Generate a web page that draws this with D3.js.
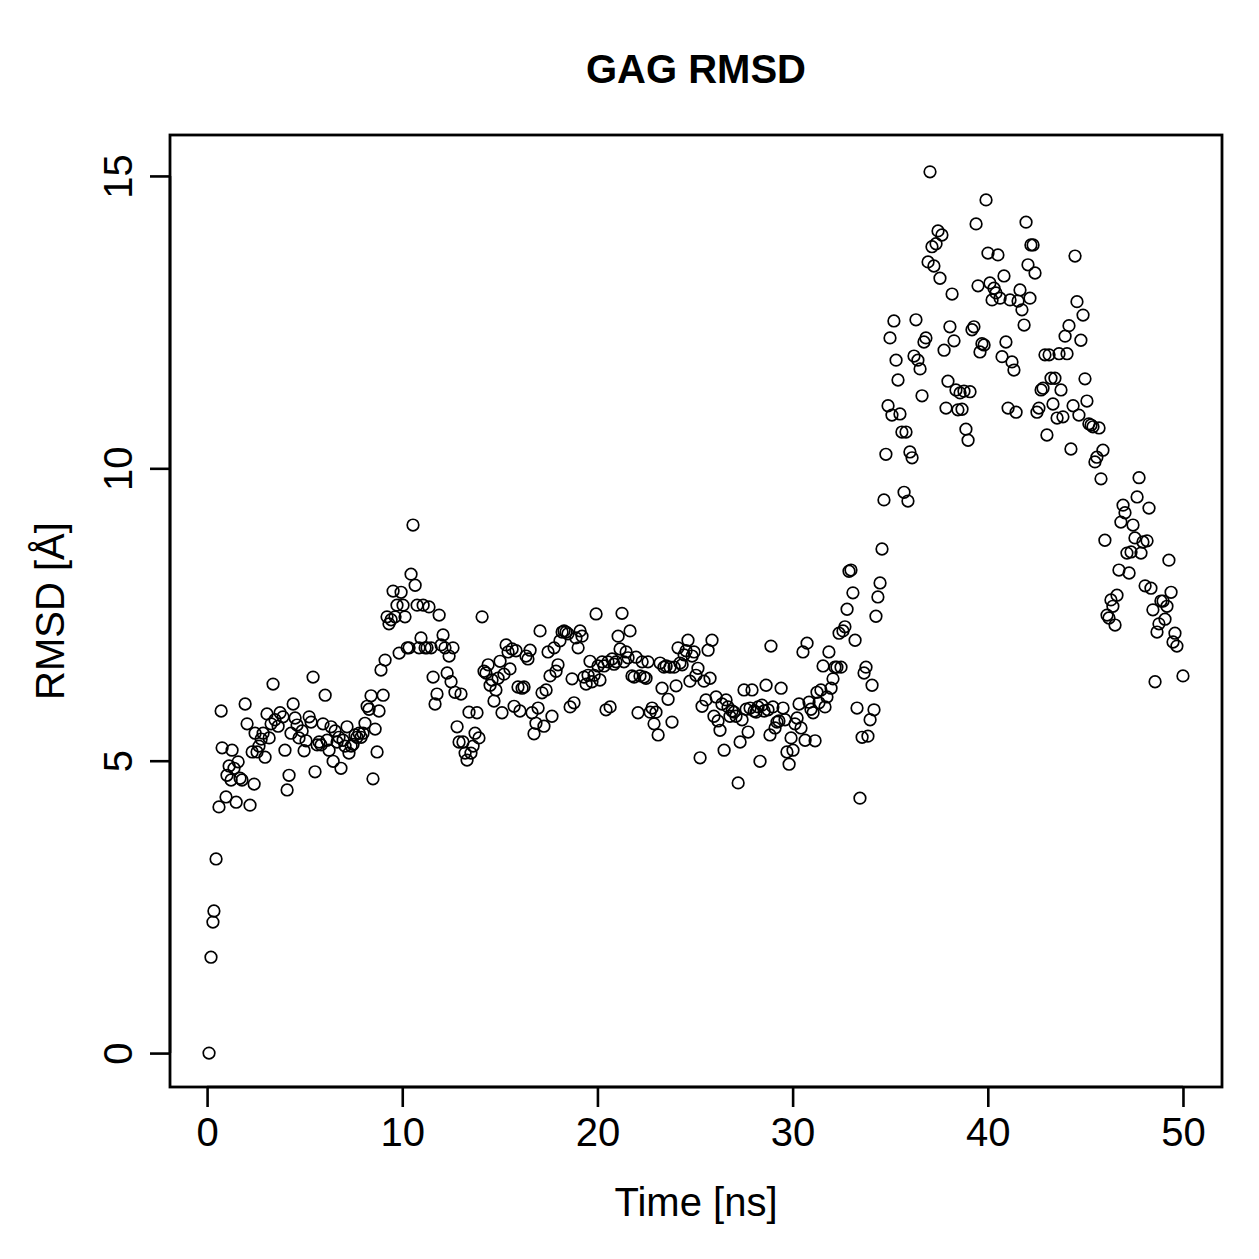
<!DOCTYPE html>
<html>
  <head>
    <meta charset="UTF-8">
    <style>
      body {
        margin: 0;
        background: #ffffff;
        font-family: 'Liberation Sans', Arial, sans-serif;
      }
      .tick text {
        font-size: 40px;
        font-family: 'Liberation Sans', Arial, sans-serif;
        fill: #000;
      }
      .tick line {
        stroke: #000;
        stroke-width: 2.6px;
      }
    </style>
    <script src="https://d3js.org/d3.v7.min.js"></script>
  </head>
  <body>
    <svg id="chart"></svg>
    <script type="text/javascript">
      let times = [
        0.1, 0.2, 0.3, 0.35, 0.46, 0.61, 0.72, 0.77, 0.97, 1.02, 1.13, 1.23, 1.28, 1.38, 1.49, 1.59, 1.69, 1.79, 1.95, 2.05,
        2.2, 2.31, 2.41, 2.46, 2.56, 2.66, 2.77, 2.87, 2.97, 3.07, 3.18, 3.28, 3.38, 3.48, 3.64, 3.74, 3.89, 3.99, 4.1, 4.2,
        4.3, 4.41, 4.51, 4.61, 4.71, 4.87, 4.97, 5.07, 5.23, 5.33, 5.43, 5.53, 5.64, 5.74, 5.84, 5.94, 6.05, 6.15, 6.25, 6.35,
        6.46, 6.56, 6.66, 6.76, 6.86, 6.97, 7.07, 7.17, 7.27, 7.38, 7.48, 7.58, 7.68, 7.79, 7.89, 7.99, 8.09, 8.2, 8.3, 8.4,
        8.5, 8.61, 8.71, 8.81, 8.91, 9.02, 9.12, 9.22, 9.32, 9.43, 9.53, 9.63, 9.73, 9.84, 9.94, 10.04, 10.14, 10.25, 10.35, 10.45,
        10.55, 10.66, 10.76, 10.86, 10.96, 11.07, 11.17, 11.27, 11.37, 11.48, 11.58, 11.68, 11.78, 11.89, 11.99, 12.09, 12.19, 12.3, 12.4, 12.5,
        12.6, 12.7, 12.81, 12.91, 13.01, 13.11, 13.22, 13.32, 13.42, 13.52, 13.63, 13.73, 13.83, 13.93, 14.09, 14.19, 14.29, 14.4, 14.5, 14.6,
        14.7, 14.8, 14.91, 15.01, 15.11, 15.21, 15.32, 15.42, 15.52, 15.63, 15.73, 15.83, 15.93, 16.03, 16.14, 16.24, 16.34, 16.44, 16.55, 16.65,
        16.75, 16.85, 16.96, 17.06, 17.16, 17.26, 17.37, 17.47, 17.57, 17.67, 17.78, 17.88, 17.98, 18.08, 18.19, 18.29, 18.39, 18.49, 18.6, 18.7,
        18.8, 18.9, 19.01, 19.11, 19.21, 19.31, 19.42, 19.52, 19.62, 19.72, 19.83, 19.93, 20.03, 20.13, 20.24, 20.34, 20.44, 20.54, 20.65, 20.75,
        20.85, 20.95, 21.06, 21.16, 21.26, 21.36, 21.47, 21.57, 21.67, 21.77, 21.88, 21.98, 22.08, 22.18, 22.29, 22.39, 22.49, 22.59, 22.7, 22.8,
        22.9, 23.0, 23.11, 23.21, 23.31, 23.41, 23.52, 23.62, 23.72, 23.82, 23.93, 24.03, 24.13, 24.23, 24.34, 24.44, 24.54, 24.64, 24.74, 24.85,
        24.95, 25.05, 25.15, 25.26, 25.36, 25.46, 25.56, 25.67, 25.77, 25.87, 25.97, 26.08, 26.18, 26.28, 26.38, 26.49, 26.59, 26.69, 26.79, 26.9,
        27.0, 27.1, 27.21, 27.31, 27.41, 27.51, 27.62, 27.72, 27.82, 27.92, 28.03, 28.13, 28.23, 28.33, 28.43, 28.54, 28.64, 28.74, 28.84, 28.89,
        28.99, 29.1, 29.2, 29.3, 29.41, 29.51, 29.61, 29.71, 29.82, 29.92, 30.02, 30.12, 30.23, 30.33, 30.43, 30.53, 30.64, 30.74, 30.84, 30.94,
        31.05, 31.15, 31.25, 31.35, 31.45, 31.56, 31.66, 31.76, 31.86, 31.97, 32.07, 32.17, 32.27, 32.38, 32.48, 32.58, 32.68, 32.79, 32.89, 32.99,
        33.09, 33.2, 33.3, 33.45, 33.56, 33.66, 33.76, 33.86, 33.97, 34.07, 34.17, 34.27, 34.37, 34.48, 34.58, 34.68, 34.78, 34.89, 34.99, 35.09,
        35.19, 35.3, 35.4, 35.5, 35.6, 35.71, 35.81, 35.91, 36.01, 36.12, 36.22, 36.32, 36.42, 36.53, 36.63, 36.73, 36.83, 36.94, 37.04, 37.14,
        37.24, 37.35, 37.45, 37.55, 37.65, 37.76, 37.86, 37.96, 38.06, 38.17, 38.27, 38.37, 38.47, 38.58, 38.68, 38.78, 38.88, 38.99, 39.09, 39.19,
        39.29, 39.4, 39.5, 39.6, 39.7, 39.81, 39.91, 40.01, 40.11, 40.22, 40.32, 40.42, 40.52, 40.63, 40.73, 40.83, 40.93, 41.04, 41.14, 41.24,
        41.34, 41.45, 41.55, 41.65, 41.75, 41.86, 41.96, 42.06, 42.16, 42.21, 42.32, 42.42, 42.52, 42.62, 42.73, 42.83, 42.93, 43.03, 43.14, 43.24,
        43.34, 43.44, 43.55, 43.65, 43.75, 43.85, 43.96, 44.06, 44.16, 44.26, 44.37, 44.47, 44.57, 44.67, 44.77, 44.88, 44.98, 45.08, 45.18, 45.29,
        45.39, 45.49, 45.59, 45.7, 45.8, 45.9, 46.0, 46.11, 46.21, 46.31, 46.41, 46.52, 46.62, 46.72, 46.82, 46.93, 47.03, 47.13, 47.24, 47.34,
        47.44, 47.54, 47.65, 47.75, 47.85, 47.95, 48.06, 48.16, 48.26, 48.36, 48.46, 48.57, 48.67, 48.77, 48.87, 48.98, 49.08, 49.18, 49.28, 49.39,
        49.49, 49.59, 49.69, 50.0
      ]

      let rmsd = [
        0.0, 1.64, 2.24, 2.43, 3.32, 4.21, 5.85, 5.22, 4.38, 4.75, 4.91, 4.67, 5.18, 4.87, 4.29, 4.98, 4.7, 4.67, 5.97, 5.63,
        4.24, 5.15, 4.6, 5.47, 5.15, 5.25, 5.37, 5.47, 5.06, 5.8, 5.39, 5.63, 6.31, 5.7, 5.59, 5.82, 5.75, 5.18, 4.5, 4.75,
        5.47, 5.97, 5.73, 5.61, 5.39, 5.51, 5.17, 5.34, 5.75, 5.66, 6.43, 4.81, 5.27, 5.32, 5.27, 5.63, 6.12, 5.35, 5.18, 5.58,
        4.99, 5.51, 5.32, 5.4, 4.87, 5.35, 5.25, 5.58, 5.13, 5.25, 5.28, 5.44, 5.4, 5.47, 5.4, 5.47, 5.64, 5.93, 5.88, 6.11,
        4.69, 5.54, 5.15, 5.85, 6.55, 6.12, 6.72, 7.46, 7.34, 7.41, 7.9, 7.46, 7.66, 6.84, 7.88, 7.66, 7.46, 6.93, 6.93, 8.19,
        9.03, 8.0, 7.66, 6.93, 7.1, 7.66, 6.93, 6.93, 7.63, 6.93, 6.43, 5.97, 6.14, 7.49, 6.98, 7.15, 6.93, 6.5, 6.79, 6.35,
        6.93, 6.17, 5.58, 5.32, 6.14, 5.32, 5.13, 5.01, 5.83, 5.13, 5.25, 5.47, 5.82, 5.39, 7.46, 6.53, 6.5, 6.64, 6.29, 6.38,
        6.02, 6.21, 6.41, 6.7, 5.82, 6.48, 6.98, 6.86, 6.57, 6.91, 5.93, 6.88, 6.26, 5.85, 6.24, 6.26, 6.79, 6.74, 6.89, 5.82,
        5.46, 5.64, 5.9, 7.22, 6.16, 5.59, 6.21, 6.86, 6.45, 5.76, 6.93, 6.53, 6.64, 7.05, 7.2, 7.22, 7.2, 7.17, 5.92, 6.4,
        5.99, 7.1, 6.93, 7.22, 7.13, 6.43, 6.31, 6.46, 6.7, 6.35, 6.46, 7.51, 6.62, 6.38, 6.69, 6.62, 5.87, 6.69, 5.92, 6.74,
        6.65, 6.69, 7.13, 6.91, 7.52, 6.69, 6.86, 6.76, 7.22, 6.45, 6.43, 6.77, 5.82, 6.45, 6.69, 6.43, 6.41, 6.69, 5.83, 5.9,
        5.63, 5.83, 5.44, 6.67, 6.24, 6.6, 6.62, 6.05, 6.6, 5.66, 6.6, 6.28, 6.93, 6.67, 6.64, 6.81, 6.88, 7.06, 6.36, 6.79,
        6.86, 6.46, 6.58, 5.05, 5.93, 6.36, 6.04, 6.89, 6.41, 7.06, 5.76, 6.09, 5.68, 5.52, 5.97, 5.18, 6.04, 5.92, 5.76, 5.85,
        5.83, 5.76, 4.62, 5.32, 5.7, 6.21, 5.88, 5.49, 5.9, 6.21, 5.85, 5.83, 5.92, 4.99, 5.95, 5.85, 6.29, 5.87, 5.44, 6.96,
        5.92, 5.56, 5.66, 5.68, 6.24, 5.9, 5.7, 5.15, 4.94, 5.39, 5.18, 5.63, 5.73, 5.97, 5.56, 6.86, 5.35, 7.01, 6.0, 5.88,
        5.82, 5.34, 6.17, 5.99, 6.21, 6.62, 5.92, 6.09, 6.86, 6.24, 6.4, 6.6, 6.6, 7.18, 6.6, 7.22, 7.29, 7.59, 8.24, 8.26,
        7.87, 7.06, 5.9, 4.36, 5.4, 6.5, 6.6, 5.42, 5.7, 6.29, 5.87, 7.47, 7.8, 8.04, 8.62, 9.46, 10.24, 11.07, 12.23, 10.91,
        12.52, 11.85, 11.51, 10.93, 10.62, 9.59, 10.62, 9.44, 10.28, 10.18, 11.92, 12.54, 11.85, 11.7, 11.24, 12.16, 12.23, 13.53, 15.07, 13.79,
        13.46, 13.84, 14.06, 13.25, 13.99, 12.02, 11.03, 11.49, 12.42, 12.98, 12.18, 11.34, 11.0, 11.29, 11.01, 11.32, 10.67, 10.48, 11.31, 12.37,
        12.42, 14.18, 13.12, 11.99, 12.13, 12.11, 14.59, 13.68, 13.17, 12.88, 13.08, 13.0, 13.65, 12.91, 11.91, 13.29, 12.16, 11.03, 12.88, 11.82,
        11.68, 10.96, 12.86, 13.05, 12.71, 12.45, 14.21, 13.48, 12.91, 13.82, 13.82, 13.34, 10.96, 11.03, 11.34, 11.37, 11.94, 10.57, 11.94, 11.54,
        11.1, 11.54, 10.86, 11.96, 11.34, 10.88, 12.26, 11.96, 12.44, 10.33, 11.07, 13.63, 12.85, 10.91, 12.19, 12.62, 11.53, 11.15, 10.76, 10.74,
        10.71, 10.11, 10.19, 10.69, 9.82, 10.31, 8.77, 7.49, 7.44, 7.75, 7.64, 7.32, 7.83, 8.26, 9.08, 9.37, 9.24, 8.55, 8.21, 8.57,
        9.03, 8.81, 9.51, 9.84, 8.55, 8.74, 7.99, 8.76, 9.32, 7.95, 7.58, 6.35, 7.2, 7.34, 7.73, 7.73, 7.42, 7.64, 8.43, 7.88,
        7.03, 7.18, 6.96, 6.45
      ]

      let xTicks = [0, 10, 20, 30, 40, 50]
      let yTicks = [0, 5, 10, 15]

      let width = 1259
      let height = 1259
      let margin = {top: 135, right: 37, bottom: 172, left: 170}

      let svg = d3.select('#chart')
        .attr('width', width)
        .attr('height', height)

      let bodyWidth = width - margin.left - margin.right
      let bodyHeight = height - margin.top - margin.bottom

      let xScale = d3.scaleLinear()
        .domain([-1.9, 52.0])
        .range([margin.left, margin.left + bodyWidth])

      let yScale = d3.scaleLinear()
        .domain([-0.58, 15.70])
        .range([margin.top + bodyHeight, margin.top])

      // points
      svg.append('g')
        .selectAll('circle')
        .data(times.map((t, i) => ({t: t, v: rmsd[i]})))
        .enter()
        .append('circle')
        .attr('cx', d => xScale(d.t))
        .attr('cy', d => yScale(d.v))
        .attr('r', 5.8)
        .attr('fill', 'none')
        .attr('stroke', '#000')
        .attr('stroke-width', 1.7)

      // box
      svg.append('rect')
        .attr('x', margin.left)
        .attr('y', margin.top)
        .attr('width', bodyWidth)
        .attr('height', bodyHeight)
        .attr('fill', 'none')
        .attr('stroke', '#000')
        .attr('stroke-width', 2.8)

      let axisX = d3.axisBottom(xScale)
        .tickValues(xTicks)
        .tickSize(20)
        .tickPadding(11)

      let gx = svg.append('g')
        .attr('transform', `translate(0, ${margin.top + bodyHeight})`)
        .call(axisX)
      gx.select('.domain')
        .attr('stroke', '#000')
        .attr('stroke-width', 2.6)
        .attr('d', `M${xScale(0)},0H${xScale(50)}`)

      let axisY = d3.axisLeft(yScale)
        .tickValues(yTicks)
        .tickSize(20)
        .tickPadding(10)

      let gy = svg.append('g')
        .attr('transform', `translate(${margin.left}, 0)`)
        .call(axisY)
      gy.select('.domain')
        .attr('stroke', '#000')
        .attr('stroke-width', 2.6)
        .attr('d', `M0,${yScale(0)}V${yScale(15)}`)
      gy.selectAll('.tick text')
        .attr('x', null)
        .attr('dy', null)
        .attr('text-anchor', 'middle')
        .attr('transform', 'translate(-38, 0) rotate(-90)')

      // title and axis titles
      svg.append('text')
        .attr('x', margin.left + bodyWidth / 2)
        .attr('y', 83)
        .attr('text-anchor', 'middle')
        .style('font-size', '40px')
        .style('font-weight', 'bold')
        .text('GAG RMSD')

      svg.append('text')
        .attr('x', margin.left + bodyWidth / 2)
        .attr('y', 1216)
        .attr('text-anchor', 'middle')
        .style('font-size', '40px')
        .text('Time [ns]')

      svg.append('text')
        .attr('transform', `translate(64, ${margin.top + bodyHeight / 2}) rotate(-90)`)
        .attr('text-anchor', 'middle')
        .style('font-size', '40px')
        .text('RMSD [Å]')
    </script>
  </body>
</html>
